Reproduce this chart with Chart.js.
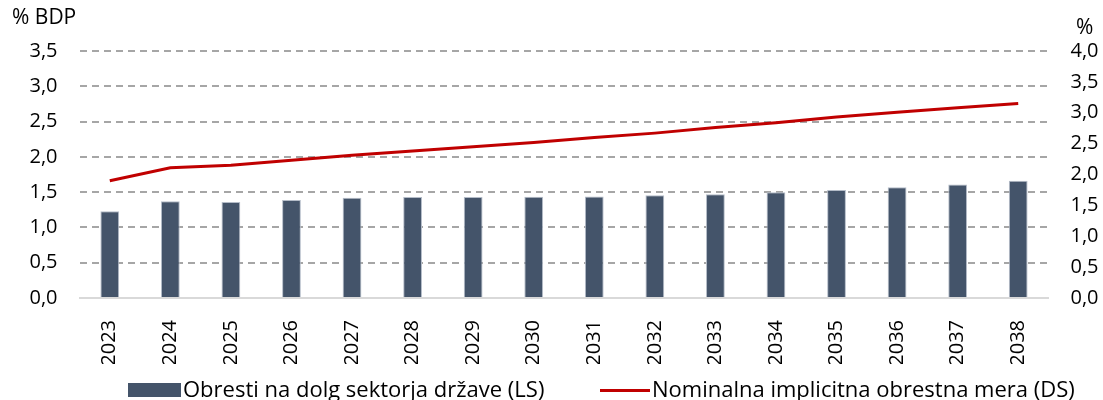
<!DOCTYPE html>
<html>
<head>
<meta charset="utf-8">
<script src="https://cdn.jsdelivr.net/npm/chart.js@4"></script>
<style>
    body { margin: 0; background: #fff; }
    #wrap { position: relative; width: 1103px; height: 400px; }
    #legend { position: absolute; top: 376px; left: 0; width: 1103px; height: 24px;
        font-family: "Open Sans", sans-serif; font-size: 22px; color: #000; }
    .item { position: absolute; top: 0; height: 24px; line-height: 24px; white-space: nowrap; }
    .box { display: inline-block; vertical-align: middle; margin-right: 2px; position: relative; top: -1px; }
</style>
</head>
<body>
<div id="wrap">
    <canvas id="chart" width="1103" height="400"></canvas>
    <div id="legend">
        <div class="item" style="left:128px"><span class="box" style="width:53px;height:14px;background:#44546a"></span>Obresti na dolg sektorja države (LS)</div>
        <div class="item" style="left:600px"><span class="box" style="width:50px;height:3px;background:#c00000"></span>Nominalna implicitna obrestna mera (DS)</div>
    </div>
</div>
<script>
// leta
const labels = ["2023", "2024", "2025", "2026", "2027", "2028", "2029", "2030",
    "2031", "2032", "2033", "2034", "2035", "2036", "2037", "2038"];
// obresti, % BDP (levo)
const interestData = [1.23, 1.37, 1.36, 1.39, 1.42, 1.43, 1.43, 1.435,
    1.44, 1.455, 1.47, 1.50, 1.53, 1.57, 1.61, 1.66];
// implicitna obrestna mera, % (desno)
const rateData = [1.90, 2.11, 2.15, 2.23, 2.31, 2.38, 2.45, 2.52,
    2.60, 2.67, 2.76, 2.84, 2.93, 3.01, 3.08, 3.15];

const FONT = "'Open Sans', sans-serif";

const fmt = v => v.toFixed(1).replace(".", ",");

// naslovi osi
const axisTitlePlugin = {
    id: "axisTitles",
    afterDraw(chart) {
        const ctx = chart.ctx;
        ctx.save();
        ctx.fillStyle = "#000";
        ctx.font = "21px " + FONT;
        ctx.textBaseline = "middle";
        ctx.textAlign = "left";
        ctx.fillText("% BDP", 12, 18);
        ctx.fillText("%", 1076, 28);
        ctx.restore();
    }
};

new Chart(document.getElementById("chart"), {
    type: "bar",
    data: {
        labels: labels,
        datasets: [
            {
                type: "line",
                label: "Nominalna implicitna obrestna mera (DS)",
                data: rateData,
                yAxisID: "y1",
                borderColor: "#c00000",
                borderWidth: 3,
                pointRadius: 0,
                tension: 0,
                order: 0
            },
            {
                label: "Obresti na dolg sektorja države (LS)",
                data: interestData,
                yAxisID: "y",
                backgroundColor: "#44546a",
                borderColor: "#b4bcc8",
                borderWidth: 1,
                categoryPercentage: 0.62,
                barPercentage: 0.5,
                order: 1
            }
        ]
    },
    options: {
        responsive: false,
        animation: false,
        layout: {
            padding: { top: 51, bottom: 36, left: 0, right: 0 }
        },
        scales: {
            x: {
                grid: { display: false },
                border: { color: "#d9d9d9", width: 2 },
                ticks: {
                    color: "#000",
                    font: { family: FONT, size: 20 },
                    minRotation: 90,
                    maxRotation: 90,
                    padding: 14
                },
                afterFit(scale) { scale.height = 66; }
            },
            y: {
                position: "left",
                min: 0,
                max: 3.5,
                grid: { color: "#a6a6a6", lineWidth: 2, drawTicks: false },
                border: { display: false, dash: [7, 5] },
                ticks: {
                    stepSize: 0.5,
                    color: "#000",
                    font: { family: FONT, size: 20 },
                    padding: 22,
                    callback: v => fmt(v)
                },
                afterFit(scale) { scale.width = 79.5; }
            },
            y1: {
                position: "right",
                min: 0,
                max: 4,
                grid: { drawOnChartArea: false, drawTicks: false },
                border: { display: false },
                ticks: {
                    stepSize: 0.5,
                    color: "#000",
                    font: { family: FONT, size: 20 },
                    padding: 22,
                    callback: v => fmt(v)
                },
                afterFit(scale) { scale.width = 54.5; }
            }
        },
        plugins: {
            legend: { display: false },
            tooltip: { enabled: false }
        }
    },
    plugins: [axisTitlePlugin]
});
</script>
</body>
</html>
